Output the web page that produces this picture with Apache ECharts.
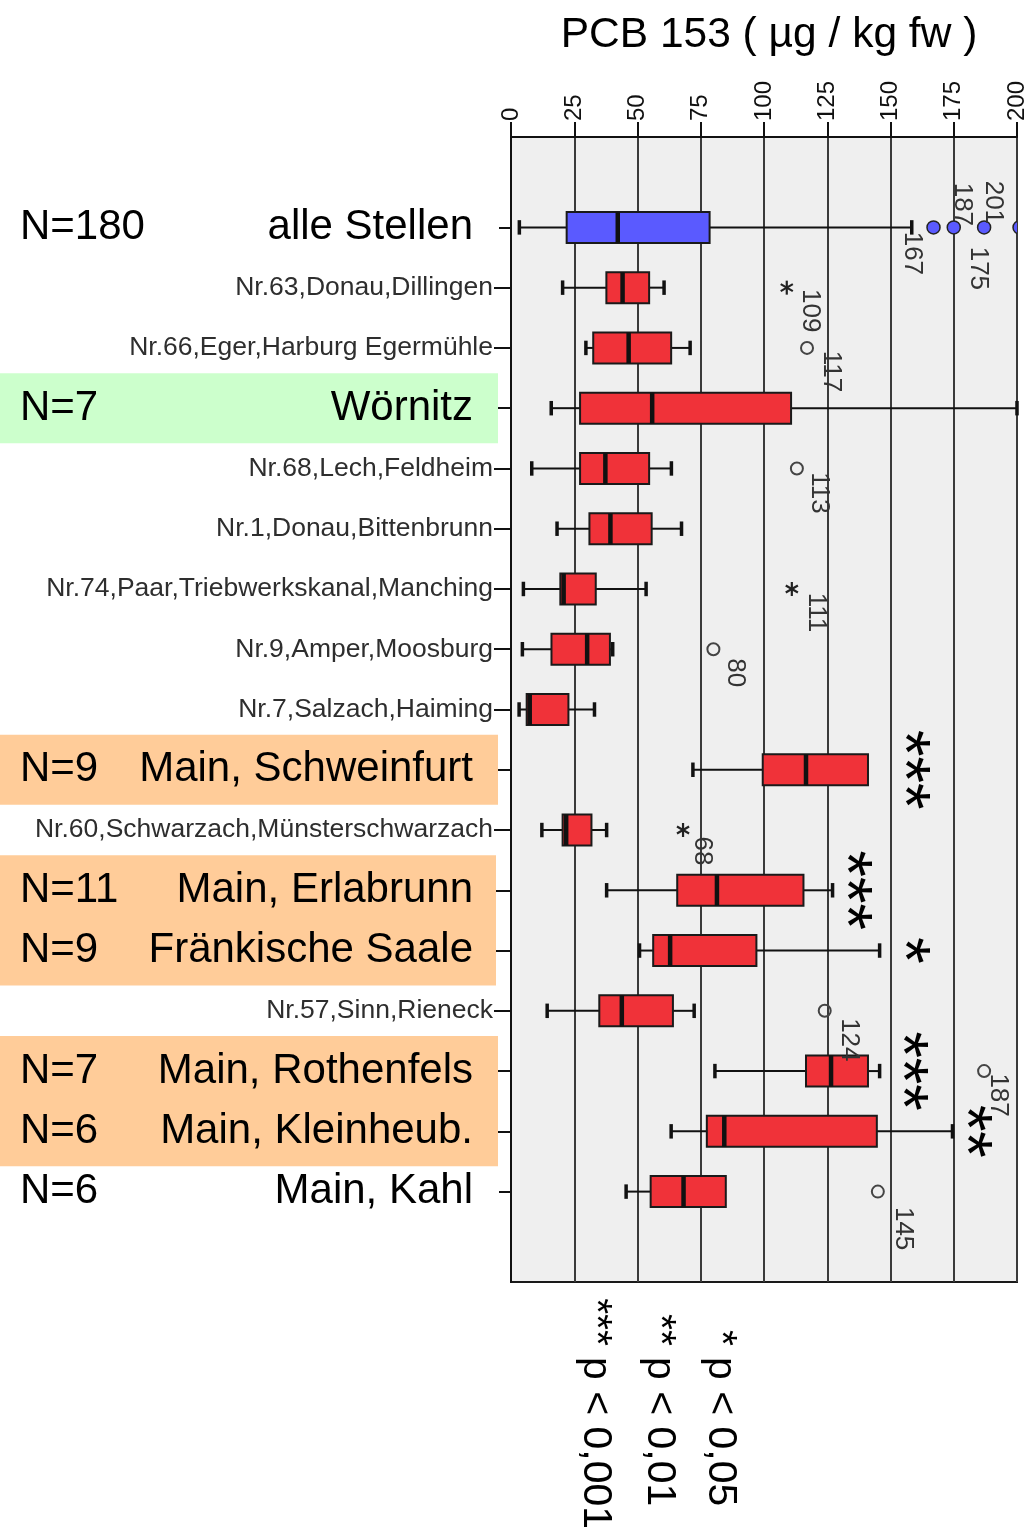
<!DOCTYPE html>
<html>
<head>
<meta charset="utf-8">
<script src="https://cdn.jsdelivr.net/npm/echarts@6/dist/echarts.min.js"></script>
<style>
  html, body { margin: 0; padding: 0; background: #ffffff; }
  #chart { width: 1031px; height: 1535px; }
</style>
</head>
<body>
<div id="chart"></div>
<script>
// Sampling sites, top to bottom
const siteNames = [
  'alle Stellen',
  'Nr.63,Donau,Dillingen',
  'Nr.66,Eger,Harburg Egermühle',
  'Wörnitz',
  'Nr.68,Lech,Feldheim',
  'Nr.1,Donau,Bittenbrunn',
  'Nr.74,Paar,Triebwerkskanal,Manching',
  'Nr.9,Amper,Moosburg',
  'Nr.7,Salzach,Haiming',
  'Main, Schweinfurt',
  'Nr.60,Schwarzach,Münsterschwarzach',
  'Main, Erlabrunn',
  'Fränkische Saale',
  'Nr.57,Sinn,Rieneck',
  'Main, Rothenfels',
  'Main, Kleinheub.',
  'Main, Kahl'
];
// Sample sizes shown for the highlighted sites
const sampleSizes = ['N=180', null, null, 'N=7', null, null, null, null, null,
  'N=9', null, 'N=11', 'N=9', null, 'N=7', 'N=6', 'N=6'];

// Box statistics, PCB 153 in µg/kg fresh weight
const whiskerLow  = [3.3, 20.4, 29.6, 15.9, 8.2, 18.2, 4.9, 4.5, 3.2, 71.9, 12.2, 37.8, 50.8, 14.3, 80.6, 63.3, 45.5];
const quartile1   = [22.0, 37.7, 32.5, 27.3, 27.3, 31.0, 19.5, 16.0, 6.2, 99.5, 20.4, 65.7, 56.2, 34.9, 116.6, 77.4, 55.2];
const medians     = [42.2, 44.1, 46.5, 55.8, 37.3, 39.3, 20.8, 30.1, 7.4, 116.6, 21.8, 81.4, 62.9, 43.8, 126.5, 84.3, 68.2];
const quartile3   = [78.5, 54.6, 63.3, 110.7, 54.6, 55.6, 33.5, 39.1, 22.7, 141.1, 31.8, 115.6, 97.0, 64.0, 141.1, 144.6, 84.9];
const whiskerHigh = [158.4, 60.5, 70.8, 200, 63.4, 67.4, 53.4, 40.2, 33.0, 141.1, 37.8, 127.1, 145.7, 72.4, 145.7, 174.5, 84.9];

// Outliers (o) and extreme values (*)
const outlierSites = ['alle Stellen', 'alle Stellen', 'alle Stellen', 'alle Stellen',
  'Nr.63,Donau,Dillingen', 'Nr.66,Eger,Harburg Egermühle', 'Nr.68,Lech,Feldheim',
  'Nr.74,Paar,Triebwerkskanal,Manching', 'Nr.9,Amper,Moosburg',
  'Nr.60,Schwarzach,Münsterschwarzach', 'Nr.57,Sinn,Rieneck', 'Main, Rothenfels', 'Main, Kahl'];
const outlierValues = [167, 175, 187, 201, 109, 117, 113, 111, 80, 68, 124, 187, 145];
const outlierKinds  = ['dot', 'dot', 'dot', 'dot', 'star', 'ring', 'ring', 'star', 'ring', 'star', 'ring', 'ring', 'ring'];

// Significance markers
const sigSites = ['Main, Schweinfurt', 'Main, Erlabrunn', 'Fränkische Saale', 'Main, Rothenfels', 'Main, Kleinheub.'];
const sigMarks = ['***', '***', '*', '***', '**'];

// Axis ticks
const axisMin = 0, axisMax = 200, axisStep = 25;

// Legend for the significance markers
const legendStars = ['***', '**', '*'];
const legendTexts = ['p < 0,001', 'p < 0,01', 'p < 0,05'];

// ---- layout and styling ----
const FONT = 'Liberation Sans, Arial, sans-serif';
const NARROW = 'Liberation Sans Narrow, Arial Narrow, Liberation Sans, sans-serif';
const BLUE = '#5a5aff';
const RED = '#f03239';
const GREEN_BAND = '#ccffcc';
const ORANGE_BAND = '#ffcc99';
const POOLED = 'alle Stellen';

// label offsets (px) of the case values next to each outlier marker
const outlierLabelShift = [[-21, 26], [24, 41], [-22, -23], [-26, -25], [23, 23], [24, 23.5], [22, 24.5],
  [24, 23.5], [22, 23.5], [19, 21], [24, 29], [14, 24], [25.5, 37]];
// horizontal placement of the significance markers (axis units)
const sigPlacement = [162.0, 139.0, 162.0, 161.2, 186.5];

// category axis with one empty slot above and below the sites
const axisCats = [''].concat(siteNames, [' ']);
const nLookup = {};
siteNames.forEach((s, i) => { if (sampleSizes[i]) nLookup[s] = sampleSizes[i]; });
const isBig = s => !!nLookup[s];
const rowOf = s => siteNames.indexOf(s) + 1;

const chart = echarts.init(document.getElementById('chart'), null, { renderer: 'canvas' });

function renderBox(params, api) {
  const r = api.value(0);
  const px = v => api.coord([v, r]);
  const [xLo, y] = px(api.value(1));
  const xQ1 = px(api.value(2))[0];
  const xMed = px(api.value(3))[0];
  const xQ3 = px(api.value(4))[0];
  const xHi = px(api.value(5))[0];
  const band = api.size([0, 1])[1];
  const bh = band * 0.515;
  const ch = band * 0.24;
  const fill = siteNames[params.dataIndex] === POOLED ? BLUE : RED;
  const seg = (x1, y1, x2, y2, w) => ({
    type: 'line', shape: { x1, y1, x2, y2 }, style: { stroke: '#111', lineWidth: w }
  });
  const kids = [];
  if (xLo < xQ1 - 0.5) {
    kids.push(seg(xLo, y, xQ1, y, 2));
    kids.push(seg(xLo, y - ch / 2, xLo, y + ch / 2, 3.5));
  }
  if (xHi > xQ3 + 0.5) {
    kids.push(seg(xQ3, y, xHi, y, 2));
    kids.push(seg(xHi, y - ch / 2, xHi, y + ch / 2, 3.5));
  }
  kids.push({
    type: 'rect',
    shape: { x: xQ1, y: y - bh / 2, width: xQ3 - xQ1, height: bh },
    style: { fill, stroke: '#1a1a1a', lineWidth: 2 }
  });
  kids.push(seg(xMed, y - bh / 2, xMed, y + bh / 2, 4.5));
  return { type: 'group', children: kids };
}

function renderOutlier(params, api) {
  const i = params.dataIndex;
  const v = api.value(1);
  const [x, y] = api.coord([v, api.value(0)]);
  const kind = outlierKinds[i];
  const kids = [];
  if (kind === 'dot') {
    kids.push({ type: 'circle', shape: { cx: x, cy: y, r: 6.5 }, style: { fill: BLUE, stroke: '#222', lineWidth: 1.5 } });
  } else if (kind === 'ring') {
    kids.push({ type: 'circle', shape: { cx: x, cy: y, r: 6 }, style: { fill: null, stroke: '#444', lineWidth: 2 } });
  } else {
    const L = 7;
    [90, 30, 150].forEach(a => {
      const rad = a * Math.PI / 180;
      kids.push({ type: 'line', shape: { x1: x - L * Math.cos(rad), y1: y - L * Math.sin(rad), x2: x + L * Math.cos(rad), y2: y + L * Math.sin(rad) },
        style: { stroke: '#222', lineWidth: 2.2 } });
    });
  }
  const sh = outlierLabelShift[i];
  kids.push({
    type: 'text', x: x + sh[0], y: y + sh[1], rotation: -Math.PI / 2,
    style: { text: String(v), fontFamily: NARROW, fontSize: 26, fill: '#333', align: 'center', verticalAlign: 'middle' }
  });
  return { type: 'group', children: kids };
}

function renderSig(params, api) {
  const [x, y] = api.coord([api.value(1), api.value(0)]);
  const fs = 68;
  return {
    type: 'text', x: x - 0.28 * fs, y, rotation: -Math.PI / 2,
    style: { text: sigMarks[params.dataIndex], fontFamily: FONT, fontSize: fs, fill: '#000', align: 'center', verticalAlign: 'middle' }
  };
}

const option = {
  animation: false,
  textStyle: { fontFamily: FONT },
  title: {
    text: 'PCB 153 ( µg / kg fw )',
    left: 764, top: 9, textAlign: 'center',
    textStyle: { fontFamily: FONT, fontSize: 42.5, fontWeight: 'normal', color: '#000' }
  },
  grid: {
    left: 511, top: 137, width: 506, height: 1145,
    show: true, backgroundColor: '#efefef', borderColor: '#1a1a1a', borderWidth: 2,
    containLabel: false, outerBoundsMode: 'none'
  },
  xAxis: {
    type: 'value', position: 'top', min: axisMin, max: axisMax, interval: axisStep,
    axisLine: { show: true, onZero: false, lineStyle: { color: '#111', width: 2 } },
    axisTick: { show: true, inside: false, length: 15, lineStyle: { color: '#111', width: 2 } },
    axisLabel: { rotate: -90, margin: 16, fontSize: 24, color: '#111', fontFamily: FONT, padding: [16, 0, 0, 0] },
    splitLine: { show: true, lineStyle: { color: '#3a3a3a', width: 2 } }
  },
  yAxis: [
    {
      type: 'category', data: axisCats, inverse: true, position: 'left', z: 0,
      axisLine: { show: true, onZero: false, lineStyle: { color: '#111', width: 2 } },
      axisTick: { show: true, alignWithLabel: true, length: 17, lineStyle: { color: '#111', width: 2 },
        interval: (idx, val) => val.trim() !== '' },
      axisLabel: { interval: 0, margin: 18, fontSize: 26.5, color: '#2e2e2e', fontFamily: FONT,
        formatter: v => (isBig(v) ? '' : v) },
      splitLine: { show: false }
    },
    {
      type: 'category', data: axisCats, inverse: true, position: 'left', z: 2,
      axisLine: { show: false }, axisTick: { show: false }, splitLine: { show: false },
      axisLabel: { interval: 0, margin: 38, fontSize: 42, color: '#000', fontFamily: FONT,
        formatter: v => (isBig(v) ? v : '') }
    },
    {
      type: 'category', data: axisCats, inverse: true, position: 'left', z: 2,
      axisLine: { show: false }, axisTick: { show: false }, splitLine: { show: false },
      axisLabel: { interval: 0, margin: 491, align: 'left', fontSize: 42, color: '#000', fontFamily: FONT,
        formatter: v => nLookup[v] || '' }
    }
  ],
  series: [
    {
      type: 'custom', name: 'boxes', xAxisIndex: 0, yAxisIndex: 0,
      renderItem: renderBox,
      encode: { y: 0, x: [1, 2, 3, 4, 5] },
      data: siteNames.map((s, i) => [i + 1, whiskerLow[i], quartile1[i], medians[i], quartile3[i], whiskerHigh[i]]),
      z: 3
    },
    {
      type: 'custom', name: 'outliers', xAxisIndex: 0, yAxisIndex: 0, clip: true,
      renderItem: renderOutlier,
      encode: { y: 0, x: 1 },
      data: outlierSites.map((s, i) => [rowOf(s), outlierValues[i]]),
      z: 4
    },
    {
      type: 'custom', name: 'significance', xAxisIndex: 0, yAxisIndex: 0,
      renderItem: renderSig,
      encode: { y: 0, x: 1 },
      data: sigSites.map((s, i) => [rowOf(s), sigPlacement[i]]),
      z: 4
    }
  ]
};

chart.setOption(option);

// Label highlight bands, placed on the category axis rows
function bandRect(first, last, color, right, halfH) {
  const y1 = chart.convertToPixel({ yAxisIndex: 0 }, rowOf(first));
  const y2 = chart.convertToPixel({ yAxisIndex: 0 }, rowOf(last));
  return {
    type: 'rect', z: 1, silent: true,
    shape: { x: 0, y: y1 - halfH, width: right, height: (y2 - y1) + 2 * halfH },
    style: { fill: color }
  };
}
const graphics = [
  bandRect('Wörnitz', 'Wörnitz', GREEN_BAND, 498, 35),
  bandRect('Main, Schweinfurt', 'Main, Schweinfurt', ORANGE_BAND, 498, 35),
  bandRect('Main, Erlabrunn', 'Fränkische Saale', ORANGE_BAND, 496, 35),
  bandRect('Main, Rothenfels', 'Main, Kleinheub.', ORANGE_BAND, 498, 35),
  bandRect('alle Stellen', 'alle Stellen', '#ffffff', 499, 12),
  bandRect('Main, Kahl', 'Main, Kahl', '#ffffff', 499, 12)
];
// significance legend below the plot, reading downwards
const legendX = [595, 659, 720];
legendTexts.forEach((t, i) => {
  graphics.push({
    type: 'text', z: 2, x: legendX[i], y: 1357, rotation: -Math.PI / 2,
    style: { text: t, fontFamily: FONT, fontSize: 41, fill: '#000', align: 'left', verticalAlign: 'middle' }
  });
  graphics.push({
    type: 'text', z: 2, x: legendX[i], y: 1346, rotation: -Math.PI / 2,
    style: { text: legendStars[i], fontFamily: FONT, fontSize: 41, fill: '#000', align: 'right', verticalAlign: 'middle' }
  });
});
chart.setOption({ graphic: graphics });
</script>
</body>
</html>
